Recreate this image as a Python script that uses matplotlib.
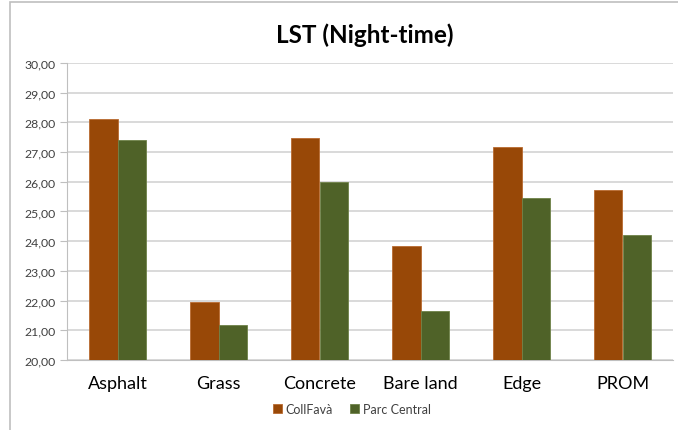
import numpy as np
import matplotlib.pyplot as plt
from matplotlib.patches import Rectangle
from matplotlib.ticker import FuncFormatter

categories = ["Asphalt", "Grass", "Concrete", "Bare land", "Edge", "PROM"]
collfava = [28.12, 21.95, 27.49, 23.85, 27.17, 25.72]
parc_central = [27.41, 21.17, 25.98, 21.64, 25.46, 24.22]
series_names = ["CollFavà", "Parc Central"]

orange = "#984807"
green = "#4F6228"
grid_col = "#D9D9D9"

plt.rcParams['font.family'] = ['Lato', 'DejaVu Sans']

fig = plt.figure(figsize=(6.78, 4.31), dpi=100)
ax = fig.add_axes([67 / 678, 1 - 361 / 431, 606 / 678, (361 - 64) / 431])

x = np.arange(len(categories))
w = 0.285
b1 = ax.bar(x - w / 2, collfava, width=w, color=orange, edgecolor="#B86A30",
            linewidth=0.6, label=series_names[0], zorder=3)
b2 = ax.bar(x + w / 2, parc_central, width=w, color=green, edgecolor="#6F8248",
            linewidth=0.6, label=series_names[1], zorder=3)

ax.set_ylim(20, 30)
ax.set_xlim(-0.5, len(categories) - 0.5)
ax.set_yticks(np.arange(20, 30.01, 1))
ax.yaxis.set_major_formatter(FuncFormatter(lambda v, p: f"{v:.2f}".replace(".", ",")))
ax.set_xticks(x)
ax.set_xticklabels(categories, fontsize=13, color="#000000")
ax.tick_params(axis="x", length=0, pad=11)
ax.tick_params(axis="y", length=5, color="#BFBFBF", labelsize=8.8,
               labelcolor="#404040", pad=3)
ax.yaxis.grid(True, color=grid_col, linewidth=1.4, zorder=0)
ax.set_axisbelow(True)
for s in ["top", "right"]:
    ax.spines[s].set_visible(False)
ax.spines["left"].set_color("#BFBFBF")
ax.spines["bottom"].set_color("#BFBFBF")

fig.text(365 / 678, 1 - 35 / 431, "LST (Night-time)", ha="center", va="center",
         fontsize=17.5, fontweight="bold", color="#000000")

fig.legend(handles=[b1, b2], labels=series_names, loc="center",
           bbox_to_anchor=(352 / 678, 1 - 410 / 431), ncol=2, frameon=False,
           fontsize=9, handlelength=0.7, handleheight=0.7, handletextpad=0.3,
           columnspacing=1.4, labelcolor="#404040")

fig.patches.append(Rectangle((10 / 678, -0.1), 1.2, 1 - 3 / 431 + 0.1,
                             transform=fig.transFigure, fill=False,
                             edgecolor="#BFBFBF", linewidth=1.2))

fig.savefig("out.png", dpi=100)
